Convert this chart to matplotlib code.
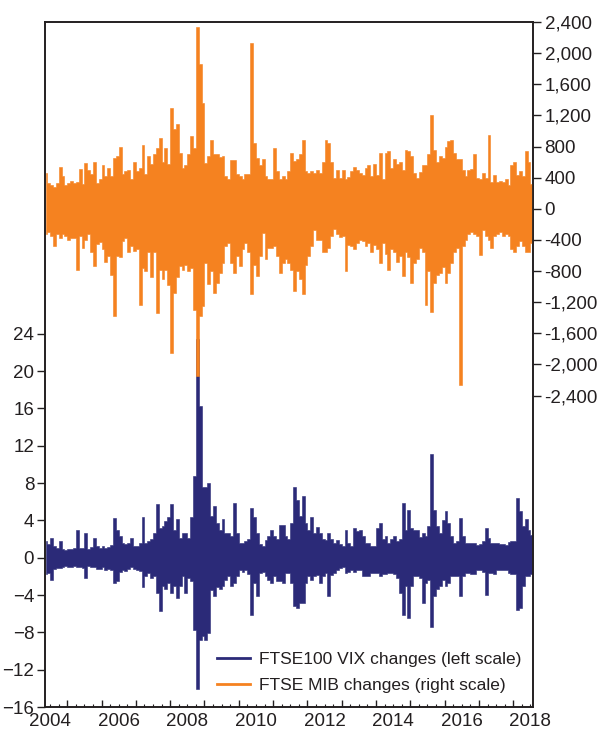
import numpy as np
import matplotlib
matplotlib.use('agg')
import matplotlib.pyplot as plt
import matplotlib.transforms as mtransforms
from matplotlib.ticker import FuncFormatter, MultipleLocator

plt.rcParams['font.family'] = ['Liberation Sans', 'DejaVu Sans']

# first month of the sample (May 2004), one entry per month after that
start_year = 2004
start_month = 5

# monthly high / low of the daily FTSE MIB changes (index points, right scale)
mib_high = [460, 330, 300, 280, 330, 540, 420, 300,
            330, 360, 330, 350, 510, 320, 590, 500, 450, 600, 330, 380,
            560, 420, 520, 420, 650, 680, 800, 450, 480, 500, 380, 600,
            480, 520, 820, 450, 680, 580, 700, 780, 910, 600, 780, 580,
            1300, 1020, 1085, 720, 520, 560, 700, 930, 780, 2340, 1860, 1360,
            590, 680, 890, 700, 700, 660, 680, 420, 380, 630, 630, 450,
            420, 380, 450, 450, 2130, 850, 650, 560, 640, 420, 380, 380,
            780, 480, 380, 420, 380, 480, 720, 620, 640, 700, 890, 480,
            460, 480, 460, 500, 460, 600, 890, 850, 600, 400, 500, 400,
            500, 380, 410, 480, 540, 500, 460, 440, 520, 560, 420, 580,
            440, 720, 380, 720, 740, 520, 640, 580, 600, 500, 760, 740,
            680, 460, 400, 470, 560, 560, 700, 1200, 760, 600, 680, 650,
            800, 870, 880, 720, 640, 640, 500, 420, 500, 510, 710, 400,
            380, 460, 400, 950, 340, 430, 350, 360, 340, 380, 300, 560,
            600, 440, 480, 420, 740, 600, 320]
mib_low = [-330, -300, -350, -480, -330, -370, -320, -350,
           -400, -370, -380, -780, -350, -500, -400, -320, -550, -740, -450, -430,
           -520, -680, -600, -850, -1380, -600, -620, -420, -380, -560, -480, -540,
           -520, -1230, -760, -800, -560, -880, -560, -1340, -780, -900, -780, -980,
           -1850, -1080, -880, -740, -780, -720, -800, -760, -1300, -2150, -1380, -1250,
           -700, -970, -800, -1080, -950, -820, -700, -480, -440, -700, -820, -600,
           -740, -520, -440, -560, -1100, -720, -860, -600, -310, -650, -500, -500,
           -480, -600, -820, -690, -650, -700, -780, -1060, -800, -900, -1100, -720,
           -600, -480, -270, -400, -400, -560, -560, -500, -350, -260, -320, -360,
           -350, -800, -470, -480, -520, -440, -400, -420, -480, -440, -560, -460,
           -520, -700, -440, -580, -780, -520, -560, -680, -600, -860, -560, -620,
           -950, -700, -640, -500, -560, -1240, -800, -1320, -950, -850, -820, -750,
           -950, -820, -700, -560, -500, -2260, -480, -400, -320, -300, -320, -350,
           -590, -270, -350, -400, -500, -350, -330, -300, -350, -330, -350, -520,
           -550, -480, -420, -480, -560, -560, -440]

# monthly high / low of the daily FTSE100 VIX changes (left scale)
vix_high = [1.8, 1.5, 2.1, 1.2, 1.0, 1.75, 0.9, 0.8,
            0.9, 0.9, 1.0, 3.0, 1.0, 1.0, 2.6, 0.9, 1.1, 2.1, 1.2, 1.0,
            1.3, 1.0, 1.1, 1.4, 4.2, 3.0, 2.3, 1.6, 1.5, 1.6, 2.1, 1.2,
            1.3, 1.6, 4.4, 1.6, 1.8, 2.0, 2.6, 5.7, 3.2, 3.4, 3.9, 4.4,
            5.7, 3.0, 4.1, 2.1, 2.6, 2.6, 2.1, 4.4, 8.7, 23.4, 16.2, 7.6,
            7.6, 8.0, 4.5, 5.5, 3.7, 3.0, 4.1, 2.6, 2.6, 2.3, 5.9, 2.6,
            1.6, 1.6, 1.8, 2.0, 5.3, 4.4, 2.6, 1.5, 1.2, 1.9, 2.3, 3.0,
            2.3, 2.0, 3.5, 3.5, 2.3, 2.0, 3.7, 7.6, 6.2, 4.5, 6.6, 3.7,
            3.0, 4.4, 2.6, 3.3, 2.6, 2.0, 1.9, 2.6, 2.0, 1.6, 1.9, 1.5,
            1.3, 3.0, 1.6, 1.3, 3.2, 2.9, 3.0, 2.3, 1.6, 1.6, 1.2, 1.3,
            3.2, 3.7, 2.0, 2.3, 1.6, 2.0, 2.3, 1.8, 2.0, 5.9, 3.0, 5.1,
            3.2, 3.0, 3.0, 2.2, 2.6, 2.3, 3.4, 11.1, 5.1, 3.4, 2.6, 4.0,
            5.0, 3.7, 2.3, 1.6, 1.8, 4.25, 2.3, 1.6, 1.6, 1.6, 1.6, 1.4,
            1.5, 1.8, 3.2, 2.1, 1.6, 1.6, 1.6, 1.5, 1.5, 1.4, 1.7, 1.8,
            1.8, 6.4, 5.0, 3.4, 4.1, 3.0, 2.4]
vix_low = [-1.8, -1.6, -2.4, -1.2, -1.1, -1.1, -1.0, -0.9,
           -1.0, -1.0, -0.9, -1.0, -1.0, -1.1, -2.2, -0.9, -1.0, -1.0, -1.2, -1.2,
           -1.0, -1.3, -1.2, -1.3, -2.7, -2.5, -1.5, -1.3, -1.4, -1.2, -1.0, -1.2,
           -1.3, -1.4, -3.1, -2.0, -1.6, -2.2, -2.0, -3.8, -5.7, -3.0, -3.4, -2.7,
           -3.8, -3.0, -4.3, -3.0, -2.0, -3.8, -2.2, -2.5, -7.7, -14.1, -8.8, -8.4,
           -8.8, -8.1, -3.5, -4.1, -3.1, -3.4, -3.0, -2.4, -2.0, -3.0, -2.7, -2.0,
           -1.3, -1.5, -1.3, -1.8, -6.1, -2.7, -4.1, -1.6, -1.5, -2.0, -2.4, -2.7,
           -2.0, -2.5, -2.5, -2.7, -1.6, -1.6, -2.7, -5.2, -5.4, -4.9, -4.9, -2.7,
           -2.0, -2.4, -2.0, -1.9, -2.7, -2.0, -1.6, -4.1, -1.9, -1.6, -1.3, -1.1,
           -1.0, -1.6, -1.5, -1.3, -1.5, -1.3, -1.3, -2.0, -2.0, -2.0, -1.6, -1.6,
           -1.6, -2.0, -1.8, -1.8, -1.6, -1.6, -1.8, -2.2, -3.8, -6.1, -3.0, -6.5,
           -3.0, -2.0, -2.0, -2.2, -4.9, -2.7, -2.4, -7.4, -4.1, -3.4, -3.0, -2.4,
           -3.0, -2.7, -2.0, -2.0, -2.0, -4.1, -2.0, -1.6, -1.6, -1.8, -1.7, -1.3,
           -1.3, -1.5, -4.0, -1.6, -1.6, -1.8, -1.3, -1.3, -1.3, -1.3, -1.6, -1.8,
           -1.8, -5.6, -5.4, -3.0, -2.0, -2.0, -1.8]

year_labels = [2004, 2006, 2008, 2010, 2012, 2014, 2016, 2018]

NAVY = '#2b2a78'
ORANGE = '#f58220'
TXT = '#231f20'


def month_centres(n):
    """Centre of each sample month as a decimal year"""
    m = np.arange(n)
    return start_year + (start_month - 1 + m + 0.5) / 12.0


fig = plt.figure(figsize=(6.03, 7.45), dpi=100)
ax = fig.add_axes([0.0751, 0.0510, 0.8096, 0.9195])
ax2 = ax.twinx()

# daily range of each month drawn as a filled band
tv = month_centres(len(vix_high))
ax.fill_between(tv, vix_low, vix_high, step='mid', color=NAVY, lw=0.4)
tm = month_centres(len(mib_high))
ax2.fill_between(tm, mib_low, mib_high, step='mid', color=ORANGE, lw=0.4)

# legend proxies
l1, = ax.plot([], [], color=NAVY, lw=2.0)
l2, = ax.plot([], [], color=ORANGE, lw=2.0)

ax.set_xlim(2004.36, 2018.59)
ax.set_ylim(-16, 57.4)
ax2.set_ylim(-6400, 2400)

ax.set_yticks(np.arange(-16, 25, 4))
ax2.set_yticks(np.arange(-2400, 2401, 400))
ax2.yaxis.set_major_formatter(FuncFormatter(lambda v, p: f'{int(v):,}'))

# yearly ticks and quarterly minor ticks, labels sit in the middle of the year
ax.set_xticks(np.arange(2005, 2019))
ax.xaxis.set_minor_locator(MultipleLocator(0.25))
ax.set_xticklabels([])
ax.tick_params(axis='x', which='major', direction='in', length=5, width=1, colors=TXT)
ax.tick_params(axis='x', which='minor', direction='in', length=2.5, width=0.8, colors=TXT)
ax.tick_params(axis='y', direction='out', length=6, width=1, pad=2,
               labelsize=13.5, colors=TXT)
ax2.tick_params(axis='y', direction='out', length=6, width=1, pad=2,
                labelsize=13.5, colors=TXT)

trans = mtransforms.blended_transform_factory(ax.transData, ax.transAxes)
for yr in year_labels:
    ax.text(yr + 0.5, -0.009, str(yr), transform=trans, ha='center', va='top',
            fontsize=13.5, color=TXT)

for a in (ax, ax2):
    for s in a.spines.values():
        s.set_color(TXT)
        s.set_linewidth(1.2)

leg = ax2.legend([l1, l2], ['FTSE100 VIX changes (left scale)',
                            'FTSE MIB changes (right scale)'],
                 loc='lower right', bbox_to_anchor=(0.99, 0.01), frameon=False,
                 fontsize=12.5, handlelength=1.9, handletextpad=0.55,
                 labelspacing=0.65, borderaxespad=0.0)
for t in leg.get_texts():
    t.set_color(TXT)

fig.savefig('out.png', dpi=100)
